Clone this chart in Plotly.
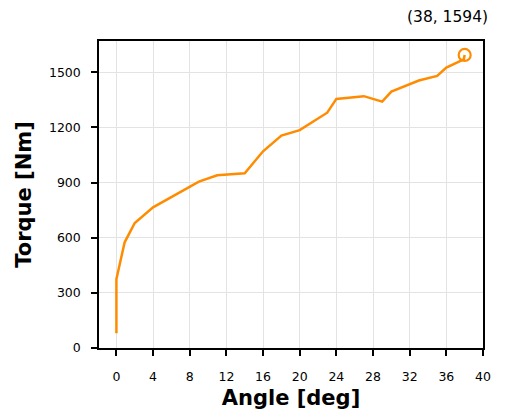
import plotly.graph_objects as go

angle = [0, 0, 0.9, 2, 4, 9, 11, 14, 16, 18, 20, 23, 24, 27, 29, 30, 33, 35, 36, 37.9, 38]
torque = [80, 375, 575, 680, 765, 905, 940, 950, 1070, 1155, 1185, 1280, 1355, 1370, 1340, 1395, 1455, 1480, 1525, 1570, 1594]
peak_angle = [38]
peak_torque = [1594]
x_ticks = [0, 4, 8, 12, 16, 20, 24, 28, 32, 36, 40]
y_ticks = [0, 300, 600, 900, 1200, 1500]

color = "#ff8c00"
fig = go.Figure()
fig.add_trace(go.Scatter(x=angle, y=torque, mode="lines",
                         line=dict(color=color, width=2.5), showlegend=False))
fig.add_trace(go.Scatter(x=peak_angle, y=peak_torque, mode="markers",
                         marker=dict(symbol="circle-open", size=12, color=color,
                                     line=dict(width=2.2, color=color)),
                         showlegend=False))
fig.add_annotation(x=(447.8 - 99) / 384, y=(348 - 17) / 307, xref="paper", yref="paper",
                   text=f"({peak_angle[0]}, {peak_torque[0]})", showarrow=False,
                   font=dict(size=15.5, color="black"), xanchor="center", yanchor="middle")

axis_common = dict(showline=True, linecolor="black", linewidth=1.5, mirror=True,
                   ticks="outside", ticklen=6, tickwidth=1.5, tickcolor="black",
                   showgrid=True, gridcolor="#e3e3e3", gridwidth=1, zeroline=False,
                   tickfont=dict(size=12.5, color="black"), automargin=False)
fig.update_xaxes(range=[-1.9, 40], tickvals=x_ticks, ticklabelstandoff=10,
                 title=dict(text="<b>Angle [deg]</b>", font=dict(size=21, color="black"), standoff=8),
                 **axis_common)
fig.update_yaxes(range=[0, 1670], tickvals=y_ticks, ticklabelstandoff=8,
                 title=dict(text="<b>Torque [Nm]</b>", font=dict(size=21, color="black"), standoff=12),
                 **axis_common)
fig.update_layout(width=510, height=415, margin=dict(l=99, r=27, t=41, b=67),
                  plot_bgcolor="white", paper_bgcolor="white",
                  font=dict(family="DejaVu Sans", color="black"))
fig.write_html("out.html", config={"displayModeBar": False},
               post_script="document.body.style.margin='0';")
